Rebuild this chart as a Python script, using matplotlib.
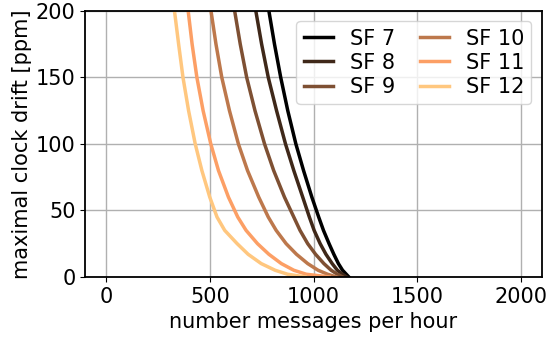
import numpy as np
import matplotlib
matplotlib.use("Agg")
import matplotlib.pyplot as plt


# drift levels [ppm] at which the x position of each curve was read
DRIFT = [200, 175, 150, 125, 100, 80, 60, 45, 35, 25, 17, 10, 5, 2, 0]

# number of messages per hour where each curve crosses the drift levels above
SF7 = [785, 812, 842, 876, 915, 952, 992, 1025, 1048, 1075, 1098, 1120, 1140, 1158, 1170]
SF8 = [722, 750, 782, 822, 865, 905, 948, 980, 1003, 1032, 1060, 1090, 1115, 1140, 1160]
SF9 = [620, 647, 678, 718, 764, 808, 860, 905, 935, 972, 1010, 1050, 1085, 1115, 1140]
SF10 = [506, 530, 558, 595, 638, 682, 736, 782, 820, 868, 918, 972, 1022, 1068, 1110]
SF11 = [396, 415, 438, 468, 505, 542, 590, 635, 675, 730, 785, 845, 905, 965, 1075]
SF12 = [330, 350, 371, 398, 430, 462, 500, 535, 572, 632, 685, 748, 815, 875, 960]

LABELS = ["SF 7", "SF 8", "SF 9", "SF 10", "SF 11", "SF 12"]
SERIES = [SF7, SF8, SF9, SF10, SF11, SF12]

plt.rcParams["font.family"] = "DejaVu Sans"
plt.rcParams["font.size"] = 15

fig = plt.figure(figsize=(5.5, 3.41), dpi=100)
ax = fig.add_axes([0.155, 0.188, 0.83, 0.78])

colors = plt.cm.copper(np.linspace(0, 1, len(SERIES)))

for label, xs, c in zip(LABELS, SERIES, colors):
    ax.plot(xs, DRIFT, color=c, linewidth=2.5, label=label)

ax.set_xlim(-100, 2100)
ax.set_ylim(0, 200)
ax.set_xticks([0, 500, 1000, 1500, 2000])
ax.set_yticks([0, 50, 100, 150, 200])
ax.grid(True, color="#b0b0b0", linewidth=1)
ax.set_axisbelow(True)

for s in ax.spines.values():
    s.set_linewidth(1.3)

ax.set_xlabel("number messages per hour", labelpad=4)
ax.set_ylabel("maximal clock drift [ppm]", labelpad=3)

ax.legend(ncol=2, loc="upper right", fontsize=15, handlelength=1.4,
          handletextpad=0.8, columnspacing=1.2, labelspacing=0.2,
          borderpad=0.35)

fig.savefig("out.png", dpi=100)
plt.close()
